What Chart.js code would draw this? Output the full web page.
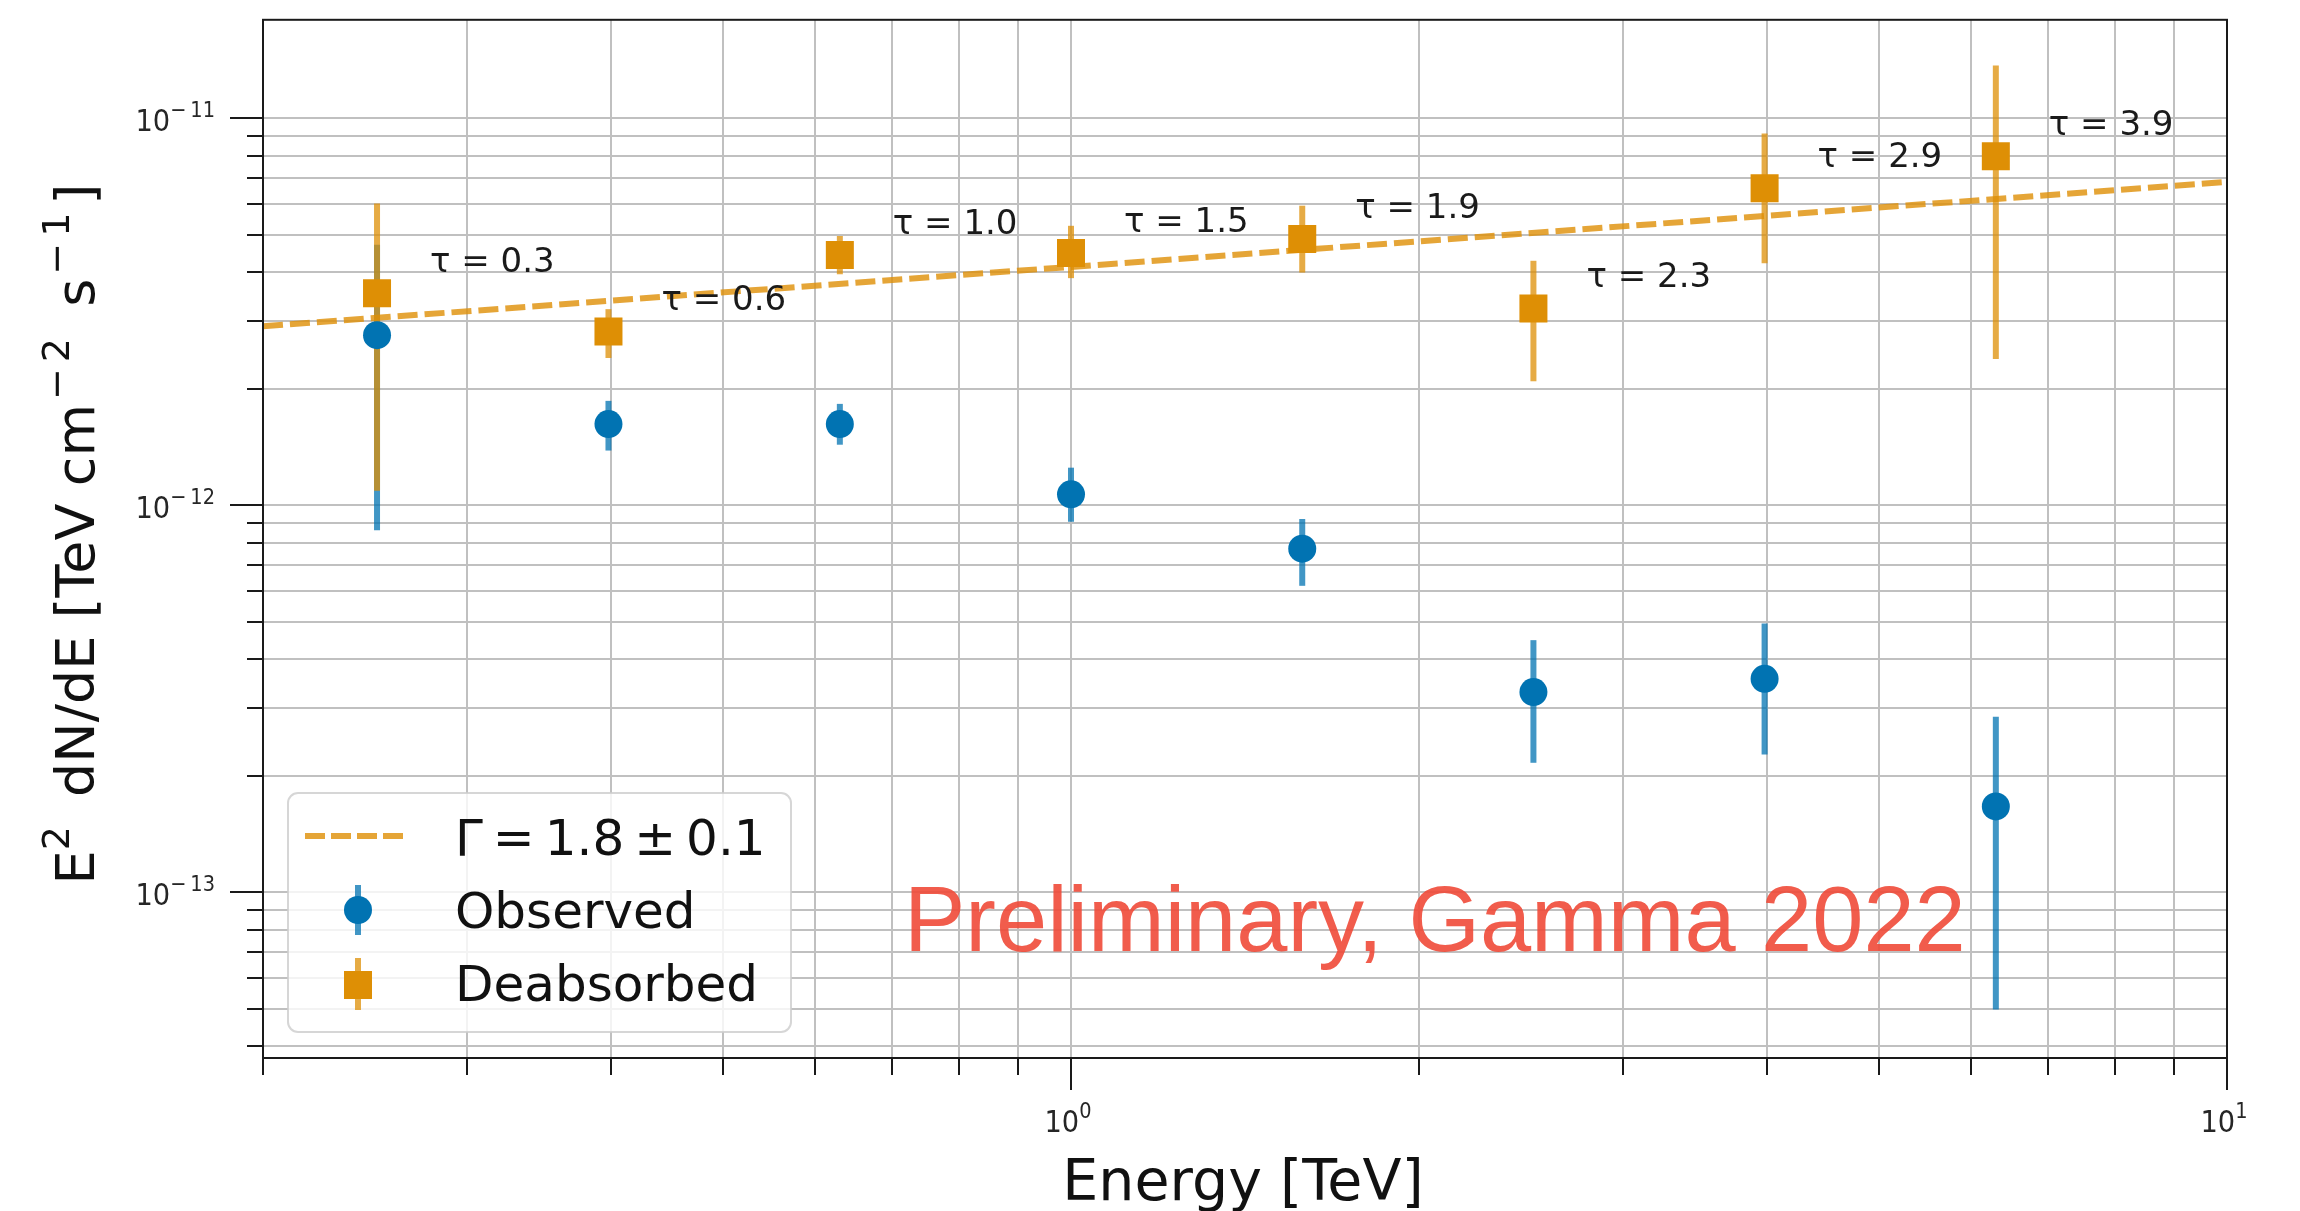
<!DOCTYPE html>
<html>
<head>
<meta charset="utf-8">
<title>E2 dN/dE spectrum</title>
<script src="https://cdn.jsdelivr.net/npm/chart.js@4.4.1/dist/chart.umd.min.js"></script>
<style>
	html, body { margin: 0; padding: 0; background: #fff; }
	canvas { display: block; }
</style>
</head>
<body>
<canvas id="chartSED" width="2300" height="1211"></canvas>
<script>
// energies in TeV, fluxes in TeV cm^-2 s^-1
const energies = [0.251, 0.398, 0.631, 1.0, 1.585, 2.512, 3.981, 6.31];

const observed = [2.75e-12, 1.62e-12, 1.62e-12, 1.067e-12, 7.72e-13, 3.29e-13, 3.56e-13, 1.666e-13];
const observedLow = [8.61e-13, 1.384e-12, 1.433e-12, 9.06e-13, 6.19e-13, 2.16e-13, 2.27e-13, 4.98e-14];
const observedHigh = [4.71e-12, 1.86e-12, 1.827e-12, 1.25e-12, 9.21e-13, 4.48e-13, 4.95e-13, 2.84e-13];

const deabsorbed = [3.53e-12, 2.81e-12, 4.43e-12, 4.48e-12, 4.87e-12, 3.22e-12, 6.59e-12, 7.97e-12];
const deabsorbedLow = [1.09e-12, 2.40e-12, 3.95e-12, 3.86e-12, 3.99e-12, 2.09e-12, 4.22e-12, 2.385e-12];
const deabsorbedHigh = [6.02e-12, 3.21e-12, 4.96e-12, 5.27e-12, 5.94e-12, 4.28e-12, 9.13e-12, 1.367e-11];

const tauLabels = ['0.3', '0.6', '1.0', '1.5', '1.9', '2.3', '2.9', '3.9'];

// power law fit, Gamma = 1.8
const fitEnergies = [0.2, 10];
const fitFlux = [2.9e-12, 6.84e-12];

const xRange = [0.2, 10];
const yRange = [3.73e-14, 1.795e-11];
const xDecades = [-1, 0, 1];
const yDecades = [-14, -13, -12, -11];

const legendLabels = ['Γ\u2009=\u20091.8\u2009±\u20090.1', 'Observed', 'Deabsorbed'];
const xTitle = 'Energy [TeV]';
const watermark = 'Preliminary, Gamma 2022';

const BLUE = '#0173b2';
const ORANGE = '#de8f05';
const BLUE_BAR = 'rgba(1, 115, 178, 0.75)';
const ORANGE_BAR = 'rgba(222, 143, 5, 0.75)';
const GRID = '#c0c0c0';
const FONT = '"DejaVu Sans"';

function logTicks(decades, range) {
	let ticks = [];
	decades.forEach(d => {
		for (let m = 1; m < 10; m++) {
			let v = m * Math.pow(10, d);
			if (v >= range[0] * 0.999 && v <= range[1] * 1.001) ticks.push({value: v, major: m === 1, exp: d});
		}
	});
	return ticks;
}

const xTicks = logTicks(xDecades, xRange);
const yTicks = logTicks(yDecades, yRange);

function toPoints(xs, ys) {
	return xs.map((x, i) => ({x: x, y: ys[i]}));
}

function expLabel(exp) {
	if (exp < 0) return [['10', false], ['\u2212', true, 4], [String(-exp), true]];
	return [['10', false], [String(exp), true]];
}

// text with superscripts: parts are [text, isSup, extraGap]
function drawRich(ctx, parts, x, y, opt) {
	const squeeze = opt.squeeze || 1;
	const widths = parts.map(p => {
		ctx.font = (p[1] ? opt.supSize : opt.size) + 'px ' + FONT;
		return ctx.measureText(p[0]).width * squeeze + (p[2] || 0);
	});
	const total = widths.reduce((a, b) => a + b, 0);
	let pos = x;
	if (opt.align === 'right') pos = x - total;
	if (opt.align === 'center') pos = x - total / 2;
	ctx.textAlign = 'left';
	ctx.textBaseline = 'alphabetic';
	parts.forEach((p, i) => {
		ctx.font = (p[1] ? opt.supSize : opt.size) + 'px ' + FONT;
		ctx.save();
		ctx.translate(pos, p[1] ? y - opt.raise : y);
		ctx.scale(squeeze, 1);
		ctx.fillText(p[0], 0, 0);
		ctx.restore();
		pos += widths[i];
	});
}

function drawErrorBars(ctx, xScale, yScale, lows, highs, color) {
	ctx.save();
	ctx.strokeStyle = color;
	ctx.lineWidth = 6;
	ctx.lineCap = 'butt';
	energies.forEach((e, i) => {
		let px = xScale.getPixelForValue(e);
		ctx.beginPath();
		ctx.moveTo(px, yScale.getPixelForValue(lows[i]));
		ctx.lineTo(px, yScale.getPixelForValue(highs[i]));
		ctx.stroke();
	});
	ctx.restore();
}

function drawLegend(ctx) {
	ctx.save();
	const x0 = 288, y0 = 793, w = 503, h = 239, r = 10;
	ctx.beginPath();
	ctx.moveTo(x0 + r, y0);
	ctx.arcTo(x0 + w, y0, x0 + w, y0 + h, r);
	ctx.arcTo(x0 + w, y0 + h, x0, y0 + h, r);
	ctx.arcTo(x0, y0 + h, x0, y0, r);
	ctx.arcTo(x0, y0, x0 + w, y0, r);
	ctx.closePath();
	ctx.fillStyle = 'rgba(255, 255, 255, 0.8)';
	ctx.fill();
	ctx.strokeStyle = 'rgba(204, 204, 204, 0.8)';
	ctx.lineWidth = 2;
	ctx.stroke();

	// fit line handle
	ctx.strokeStyle = 'rgba(222, 143, 5, 0.8)';
	ctx.lineWidth = 6;
	ctx.setLineDash([20, 6]);
	ctx.beginPath();
	ctx.moveTo(305, 836);
	ctx.lineTo(408, 836);
	ctx.stroke();
	ctx.setLineDash([]);

	// observed handle
	ctx.strokeStyle = BLUE_BAR;
	ctx.beginPath();
	ctx.moveTo(358, 885);
	ctx.lineTo(358, 935);
	ctx.stroke();
	ctx.fillStyle = BLUE;
	ctx.beginPath();
	ctx.arc(358, 910, 14, 0, Math.PI * 2);
	ctx.fill();

	// deabsorbed handle
	ctx.strokeStyle = ORANGE_BAR;
	ctx.beginPath();
	ctx.moveTo(358, 958);
	ctx.lineTo(358, 1010);
	ctx.stroke();
	ctx.fillStyle = ORANGE;
	ctx.fillRect(344, 971, 28, 28);

	ctx.fillStyle = '#111';
	ctx.font = '50px ' + FONT;
	ctx.textAlign = 'left';
	ctx.textBaseline = 'alphabetic';
	ctx.fillText(legendLabels[0], 455, 855);
	ctx.fillText(legendLabels[1], 455, 928);
	ctx.fillText(legendLabels[2], 455, 1001);
	ctx.restore();
}

const sedPlugin = {
	id: 'sedDecorations',
	beforeDatasetsDraw: (chart) => {
		const {ctx, scales} = chart;
		drawErrorBars(ctx, scales.x, scales.y, observedLow, observedHigh, BLUE_BAR);
		drawErrorBars(ctx, scales.x, scales.y, deabsorbedLow, deabsorbedHigh, ORANGE_BAR);
	},
	afterDatasetsDraw: (chart) => {
		const {ctx, chartArea, scales} = chart;
		const {left, right, top, bottom} = chartArea;
		ctx.save();

		// frame
		ctx.strokeStyle = '#1a1a1a';
		ctx.lineWidth = 2;
		ctx.strokeRect(left, top, right - left, bottom - top);

		// tick marks
		ctx.beginPath();
		yTicks.forEach(t => {
			let py = Math.round(scales.y.getPixelForValue(t.value));
			ctx.moveTo(left - (t.major ? 33 : 16), py);
			ctx.lineTo(left, py);
		});
		xTicks.forEach(t => {
			let px = Math.round(scales.x.getPixelForValue(t.value));
			ctx.moveTo(px, bottom);
			ctx.lineTo(px, bottom + (t.major ? 32 : 17));
		});
		ctx.stroke();

		// tick labels
		ctx.fillStyle = '#262626';
		yTicks.filter(t => t.major).forEach(t => {
			let py = scales.y.getPixelForValue(t.value);
			drawRich(ctx, expLabel(t.exp), 215, py + 13, {size: 31, supSize: 22, raise: 14, squeeze: 0.88, align: 'right'});
		});
		xTicks.filter(t => t.major).forEach(t => {
			let px = scales.x.getPixelForValue(t.value);
			drawRich(ctx, expLabel(t.exp), px - 3, 1132, {size: 31, supSize: 22, raise: 14, squeeze: 0.88, align: 'center'});
		});

		// tau labels next to the deabsorbed points
		ctx.fillStyle = '#1a1a1a';
		ctx.font = '34px ' + FONT;
		ctx.textAlign = 'left';
		ctx.textBaseline = 'middle';
		tauLabels.forEach((tau, i) => {
			let px = scales.x.getPixelForValue(energies[i]);
			let py = scales.y.getPixelForValue(deabsorbed[i]);
			ctx.fillText('τ = ' + tau, px + 53, py - 30);
		});

		// axis titles
		ctx.fillStyle = '#111';
		ctx.font = '57px ' + FONT;
		ctx.textAlign = 'center';
		ctx.textBaseline = 'alphabetic';
		ctx.fillText(xTitle, (left + right) / 2 - 2, 1200);

		ctx.save();
		ctx.translate(94, 534);
		ctx.rotate(-Math.PI / 2);
		drawRich(ctx, [
			['E', false], ['2', true, 12],
			[' dN/dE [TeV cm', false, 4], ['\u2212', true, 6], ['2', true, 14],
			[' s', false, 4], ['\u2212', true, 6], ['1', true, 8],
			[']', false]
		], 0, 0, {size: 54, supSize: 38, raise: 25, align: 'center'});
		ctx.restore();

		drawLegend(ctx);

		// watermark
		ctx.fillStyle = 'rgba(240, 74, 56, 0.9)';
		ctx.font = '92px "Liberation Sans"';
		ctx.textAlign = 'left';
		ctx.textBaseline = 'alphabetic';
		ctx.fillText(watermark, 904, 951);

		ctx.restore();
	}
};

const chartSED = document.getElementById('chartSED').getContext('2d');

let chartSEDConfig = {
	type: 'scatter',
	data: {
		datasets: [
			{
				label: legendLabels[0],
				data: toPoints(fitEnergies, fitFlux),
				showLine: true,
				borderColor: 'rgba(222, 143, 5, 0.8)',
				borderWidth: 6,
				borderDash: [20, 7],
				pointRadius: 0,
				order: 3
			},
			{
				label: legendLabels[1],
				data: toPoints(energies, observed),
				pointStyle: 'circle',
				pointRadius: 14,
				pointBorderWidth: 0,
				backgroundColor: BLUE,
				order: 2
			},
			{
				label: legendLabels[2],
				data: toPoints(energies, deabsorbed),
				pointStyle: 'rect',
				pointRadius: 19.8,
				pointBorderWidth: 0,
				backgroundColor: ORANGE,
				order: 1
			}
		]
	},
	options: {
		responsive: false,
		devicePixelRatio: 1,
		animation: false,
		layout: {
			padding: {
				top: 15,
				left: 0,
				right: 73,
				bottom: 0
			}
		},
		scales: {
			x: {
				type: 'logarithmic',
				position: 'bottom',
				min: xRange[0],
				max: xRange[1],
				afterBuildTicks: (scale) => { scale.ticks = xTicks.map(t => ({value: t.value, major: t.major})); },
				afterFit: (scale) => { scale.height = 153; },
				ticks: {
					display: false
				},
				grid: {
					color: GRID,
					lineWidth: 2,
					drawTicks: false
				},
				border: {
					display: false
				}
			},
			y: {
				type: 'logarithmic',
				position: 'left',
				min: yRange[0],
				max: yRange[1],
				afterBuildTicks: (scale) => { scale.ticks = yTicks.map(t => ({value: t.value, major: t.major})); },
				afterFit: (scale) => { scale.width = 263; },
				ticks: {
					display: false
				},
				grid: {
					color: GRID,
					lineWidth: 2,
					drawTicks: false
				},
				border: {
					display: false
				}
			}
		},
		plugins: {
			legend: {
				display: false
			},
			tooltip: {
				enabled: false
			}
		}
	},
	plugins: [sedPlugin]
};

new Chart(chartSED, chartSEDConfig);
</script>
</body>
</html>
